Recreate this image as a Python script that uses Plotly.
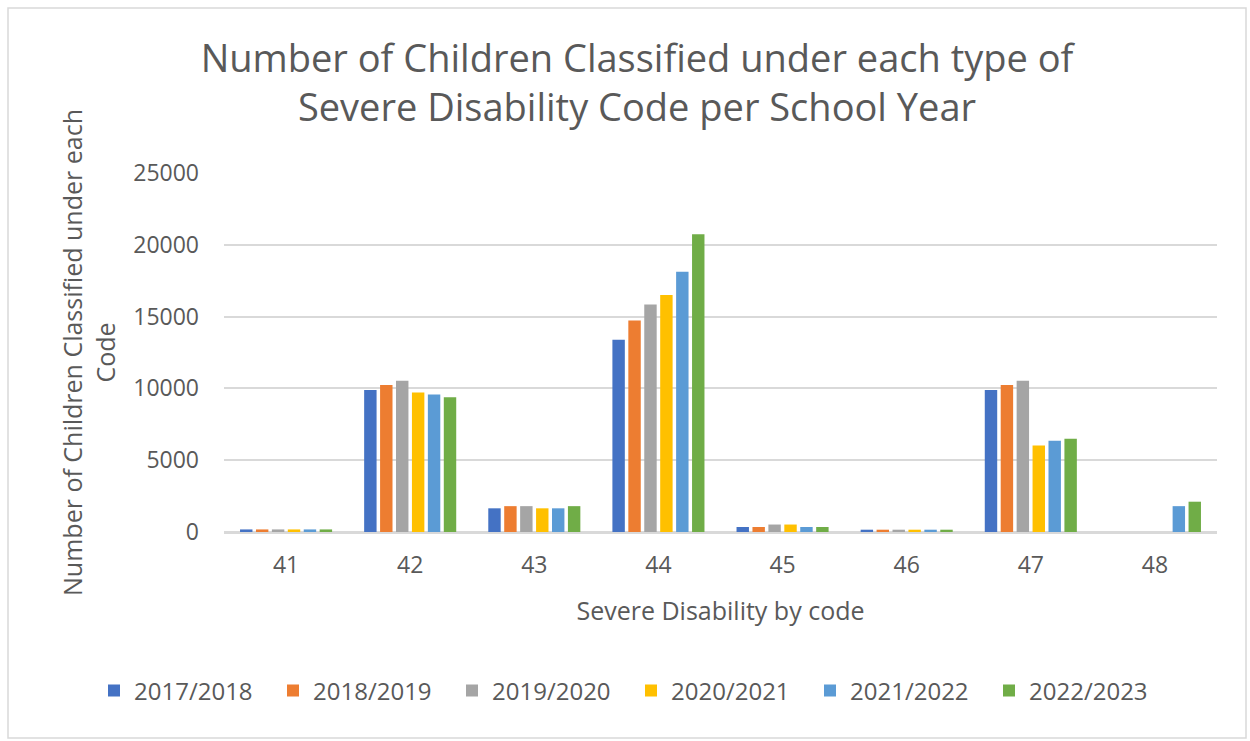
import plotly.graph_objects as go

codes = ["41", "42", "43", "44", "45", "46", "47", "48"]
years = ["2017/2018", "2018/2019", "2019/2020", "2020/2021", "2021/2022", "2022/2023"]
colors = ["#4472C4", "#ED7D31", "#A5A5A5", "#FFC000", "#5B9BD5", "#70AD47"]

v_2017_2018 = [180, 9880, 1650, 13390, 350, 160, 9880, 0]
v_2018_2019 = [180, 10230, 1800, 14730, 350, 160, 10230, 0]
v_2019_2020 = [180, 10540, 1800, 15850, 520, 160, 10540, 0]
v_2020_2021 = [180, 9720, 1650, 16510, 520, 160, 6020, 0]
v_2021_2022 = [180, 9580, 1650, 18130, 350, 160, 6350, 1800]
v_2022_2023 = [180, 9390, 1800, 20730, 350, 160, 6490, 2110]
series = [v_2017_2018, v_2018_2019, v_2019_2020, v_2020_2021, v_2021_2022, v_2022_2023]

y_ticks = [0, 5000, 10000, 15000, 20000, 25000]

W, H = 1250, 741
L, R, T, B = 224, 33, 173, 209
pw, ph = W - L - R, H - T - B

fig = go.Figure()
for name, vals, col in zip(years, series, colors):
    fig.add_trace(go.Bar(x=codes, y=vals, name=name, marker=dict(color=col, line=dict(width=0))))

font_family = "Open Sans, Noto Sans, sans-serif"
grey = "#595959"

def px_x(px):
    return (px - L) / pw

def px_y(py):
    return (H - B - py) / ph

fig.update_layout(
    width=W, height=H,
    margin=dict(l=L, r=R, t=T, b=B, autoexpand=False),
    paper_bgcolor="white", plot_bgcolor="white",
    barmode="group", bargap=0.23, bargroupgap=0.22,
    font=dict(family=font_family, color=grey),
    title=dict(
        text="Number of Children Classified under each type of<br>Severe Disability Code per School Year",
        x=637 / W, xanchor="center", xref="container",
        y=1 - 72 / H, yanchor="middle", yref="container",
        font=dict(size=38, color=grey, family=font_family),
    ),
    xaxis=dict(
        type="category",
        showgrid=False, showline=True, linecolor="#d9d9d9", linewidth=1.5,
        ticks="", ticklabelstandoff=12, tickfont=dict(size=23, color=grey),
        title=dict(text="Severe Disability by code", font=dict(size=25, color=grey), standoff=23),
    ),
    yaxis=dict(
        range=[0, 25000], tickvals=y_ticks, ticktext=[str(v) for v in y_ticks],
        showgrid=True, gridcolor="#d9d9d9", gridwidth=1.5,
        zeroline=True, zerolinecolor="#d9d9d9", zerolinewidth=1.5,
        ticks="", ticklabelstandoff=24, tickfont=dict(size=23, color=grey),
        title=dict(text="Number of Children Classified under each<br>Code", font=dict(size=25, color=grey), standoff=10),
    ),
    legend=dict(
        orientation="h", x=px_x(94), xanchor="left",
        y=px_y(691), yanchor="middle",
        font=dict(size=24, color=grey), itemwidth=30, traceorder="normal",
        entrywidth=134, entrywidthmode="pixels",
    ),
    showlegend=True,
    shapes=[dict(
        type="rect", xref="paper", yref="paper",
        x0=px_x(8), x1=px_x(1246), y0=px_y(738), y1=px_y(8),
        line=dict(color="#d9d9d9", width=1.5), fillcolor="rgba(0,0,0,0)", layer="below",
    )],
)

fig.write_html("out.html")
